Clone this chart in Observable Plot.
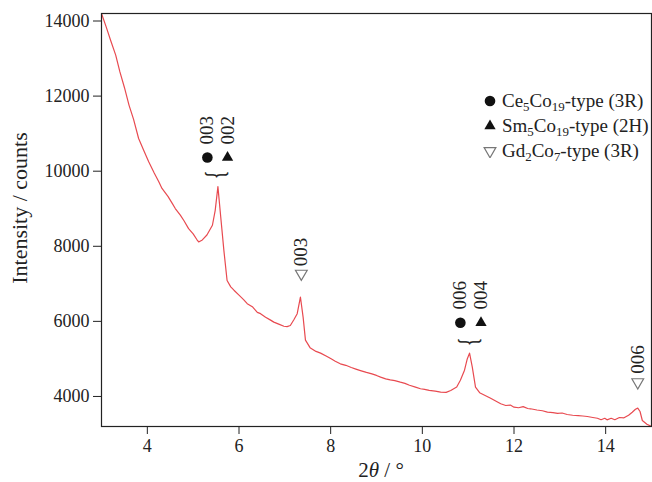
<!DOCTYPE html>
<html>
<head>
<meta charset="utf-8">
<script src="https://cdn.jsdelivr.net/npm/d3@7"></script>
<script src="https://cdn.jsdelivr.net/npm/@observablehq/plot@0.6"></script>
<style>
  html, body { margin: 0; padding: 0; background: #fff; }
  #wrap { position: relative; width: 652px; height: 482px; font-family: "Liberation Serif", "Times New Roman", serif; color: #222; }
  #wrap > svg { position: absolute; left: 0; top: 0; }
  .ov { position: absolute; white-space: nowrap; }
  .legend-row { position: absolute; left: 0; height: 20px; display: flex; align-items: center; font-size: 19px; white-space: nowrap; }
  .legend-row svg { display: block; margin-right: 5px; flex: none; }
  sub { font-size: 68%; vertical-align: -0.3em; line-height: 0; }
</style>
</head>
<body>
<div id="wrap"></div>
<script>
// ---- data ----
const twoTheta = [3.00,3.10,3.20,3.31,3.40,3.50,3.60,3.70,3.81,3.92,4.03,4.15,4.25,4.32,4.45,4.55,4.61,4.72,4.80,4.90,5.00,5.08,5.12,5.20,5.30,5.42,5.48,5.54,5.60,5.67,5.74,5.82,5.89,6.00,6.10,6.18,6.30,6.40,6.47,6.58,6.68,6.76,6.88,6.98,7.05,7.12,7.20,7.27,7.34,7.40,7.45,7.55,7.68,7.78,7.90,8.00,8.10,8.21,8.33,8.45,8.55,8.65,8.78,8.90,9.00,9.09,9.20,9.30,9.40,9.52,9.62,9.72,9.85,9.96,10.05,10.15,10.28,10.40,10.52,10.62,10.75,10.83,10.92,10.98,11.03,11.09,11.16,11.25,11.37,11.48,11.60,11.71,11.82,11.92,12.00,12.10,12.20,12.30,12.36,12.50,12.62,12.73,12.85,12.95,13.05,13.16,13.28,13.40,13.50,13.60,13.72,13.82,13.90,13.98,14.03,14.12,14.20,14.30,14.40,14.50,14.58,14.65,14.70,14.75,14.80,14.90,15.00];
const intensity = [14200,13850,13480,13090,12650,12230,11760,11380,10870,10560,10250,9950,9720,9540,9330,9130,9005,8830,8680,8470,8330,8180,8115,8170,8300,8560,8950,9590,8800,7890,7090,6920,6830,6700,6580,6470,6380,6240,6205,6110,6040,5980,5920,5870,5860,5890,6050,6205,6648,6100,5500,5300,5200,5155,5080,5010,4940,4870,4830,4770,4730,4690,4640,4600,4560,4515,4470,4440,4420,4380,4350,4300,4250,4205,4190,4160,4140,4115,4110,4160,4250,4430,4700,5000,5155,4780,4250,4100,4027,3960,3880,3805,3760,3770,3715,3700,3730,3680,3672,3640,3620,3581,3570,3550,3560,3520,3500,3490,3480,3467,3440,3420,3380,3420,3378,3420,3380,3440,3432,3500,3581,3660,3690,3600,3360,3260,3200];

// peak markers
const markPhase = ["Ce", "Sm", "Gd", "Ce", "Sm", "Gd"];
const markX = [5.31, 5.75, 7.36, 10.83, 11.28, 14.70];
const markY = [10365, 10365, 7272, 5965, 5965, 4381];
// hkl labels
const hklText = ["003", "002", "003", "006", "004", "006"];
const hklX = [5.31, 5.75, 7.36, 10.83, 11.28, 14.70];
const hklY = [11093, 11093, 7848, 6693, 6693, 4987];
// braces grouping overlapping reflections
const braceX = [5.53, 11.05];
const braceY = [9900, 5455];

const xTicks = [4, 6, 8, 10, 12, 14];
const yTicks = [4000, 6000, 8000, 10000, 12000, 14000];

const legendItems = [
  {phase: "Ce", html: "Ce<sub>5</sub>Co<sub>19</sub>-type (3R)"},
  {phase: "Sm", html: "Sm<sub>5</sub>Co<sub>19</sub>-type (2H)"},
  {phase: "Gd", html: "Gd<sub>2</sub>Co<sub>7</sub>-type (3R)"}
];

// ---- build ----
const curve = twoTheta.map((x, i) => ({x, y: intensity[i]}));
const marks = markX.map((x, i) => ({x, y: markY[i], phase: markPhase[i]}));
const hkl = hklX.map((x, i) => ({x, y: hklY[i], t: hklText[i]}));
const braces = braceX.map((x, i) => ({x, y: braceY[i]}));

const font = '"Liberation Serif", "Times New Roman", serif';
const ink = "#222";

const chart = Plot.plot({
  width: 652,
  height: 482,
  marginLeft: 101,
  marginRight: 1,
  marginTop: 13,
  marginBottom: 56,
  style: {fontFamily: font, fontSize: "18px", color: ink, background: "#fff", overflow: "visible"},
  x: {domain: [3, 15]},
  y: {domain: [3200, 14200]},
  marks: [
    Plot.axisX({ticks: xTicks, tickSize: 8, tickPadding: 5, label: null, fontSize: 18}),
    Plot.axisY({ticks: yTicks, tickSize: 8, tickPadding: 4, label: null, tickFormat: d3.format("d"), fontSize: 18}),
    Plot.line(curve, {x: "x", y: "y", stroke: "#e84a50", strokeWidth: 1.2, clip: true}),
    Plot.frame({stroke: ink, strokeWidth: 1.2}),
    Plot.dot(marks.filter(d => d.phase === "Ce"), {x: "x", y: "y", symbol: "circle", r: 5.3, fill: "#111", stroke: "none"}),
    Plot.dot(marks.filter(d => d.phase === "Sm"), {x: "x", y: "y", symbol: "triangle", r: 4.2, fill: "#111", stroke: "none"}),
    Plot.dot(marks.filter(d => d.phase === "Gd"), {x: "x", y: "y", symbol: "triangle2", r: 5.6, rotate: 180, fill: "none", stroke: "#777", strokeWidth: 1.2}),
    Plot.text(hkl, {x: "x", y: "y", text: "t", rotate: -90, fontSize: 19, fill: ink}),
    Plot.text(braces, {x: "x", y: "y", text: () => "}", rotate: 90, fontSize: 26, fill: "#111", className: "brace"})
  ]
});

const wrap = document.getElementById("wrap");
wrap.appendChild(chart);

// flatten the brace glyphs into wide, shallow horizontal braces
d3.select(chart).selectAll(".brace text").attr("transform", function () {
  return (this.getAttribute("transform") || "") + " scale(0.62,1.05)";
}).attr("stroke", "#111").attr("stroke-width", 0.4);

// axis titles
const yl = document.createElement("div");
yl.className = "ov";
yl.style.cssText = "left:20px;top:208px;font-size:22px;transform:translate(-50%,-50%) rotate(-90deg);";
yl.textContent = "Intensity / counts";
wrap.appendChild(yl);

const xl = document.createElement("div");
xl.className = "ov";
xl.style.cssText = "left:381px;top:470px;font-size:21px;transform:translate(-50%,-50%);";
xl.innerHTML = "2<i>θ</i> / °";
wrap.appendChild(xl);

// legend
const leg = document.createElement("div");
leg.className = "ov";
leg.style.cssText = "left:483px;top:91px;";
legendItems.forEach((it, i) => {
  const row = document.createElement("div");
  row.className = "legend-row";
  row.style.top = (i * 25) + "px";
  const s = d3.create("svg").attr("width", 14).attr("height", 14);
  const g = s.append("g").attr("transform", "translate(7,7)" + (it.phase === "Gd" ? " rotate(180)" : ""));
  if (it.phase === "Ce") g.append("path").attr("d", d3.symbol(d3.symbolCircle, Math.PI * 5.3 * 5.3)()).attr("fill", "#111");
  if (it.phase === "Sm") g.append("path").attr("d", d3.symbol(d3.symbolTriangle, Math.PI * 4.2 * 4.2)()).attr("fill", "#111");
  if (it.phase === "Gd") g.append("path").attr("d", d3.symbol(d3.symbolTriangle2, Math.PI * 5.6 * 5.6)()).attr("fill", "none").attr("stroke", "#777").attr("stroke-width", 1.2);
  row.appendChild(s.node());
  const t = document.createElement("span");
  t.innerHTML = it.html;
  row.appendChild(t);
  leg.appendChild(row);
});
wrap.appendChild(leg);
</script>
</body>
</html>
